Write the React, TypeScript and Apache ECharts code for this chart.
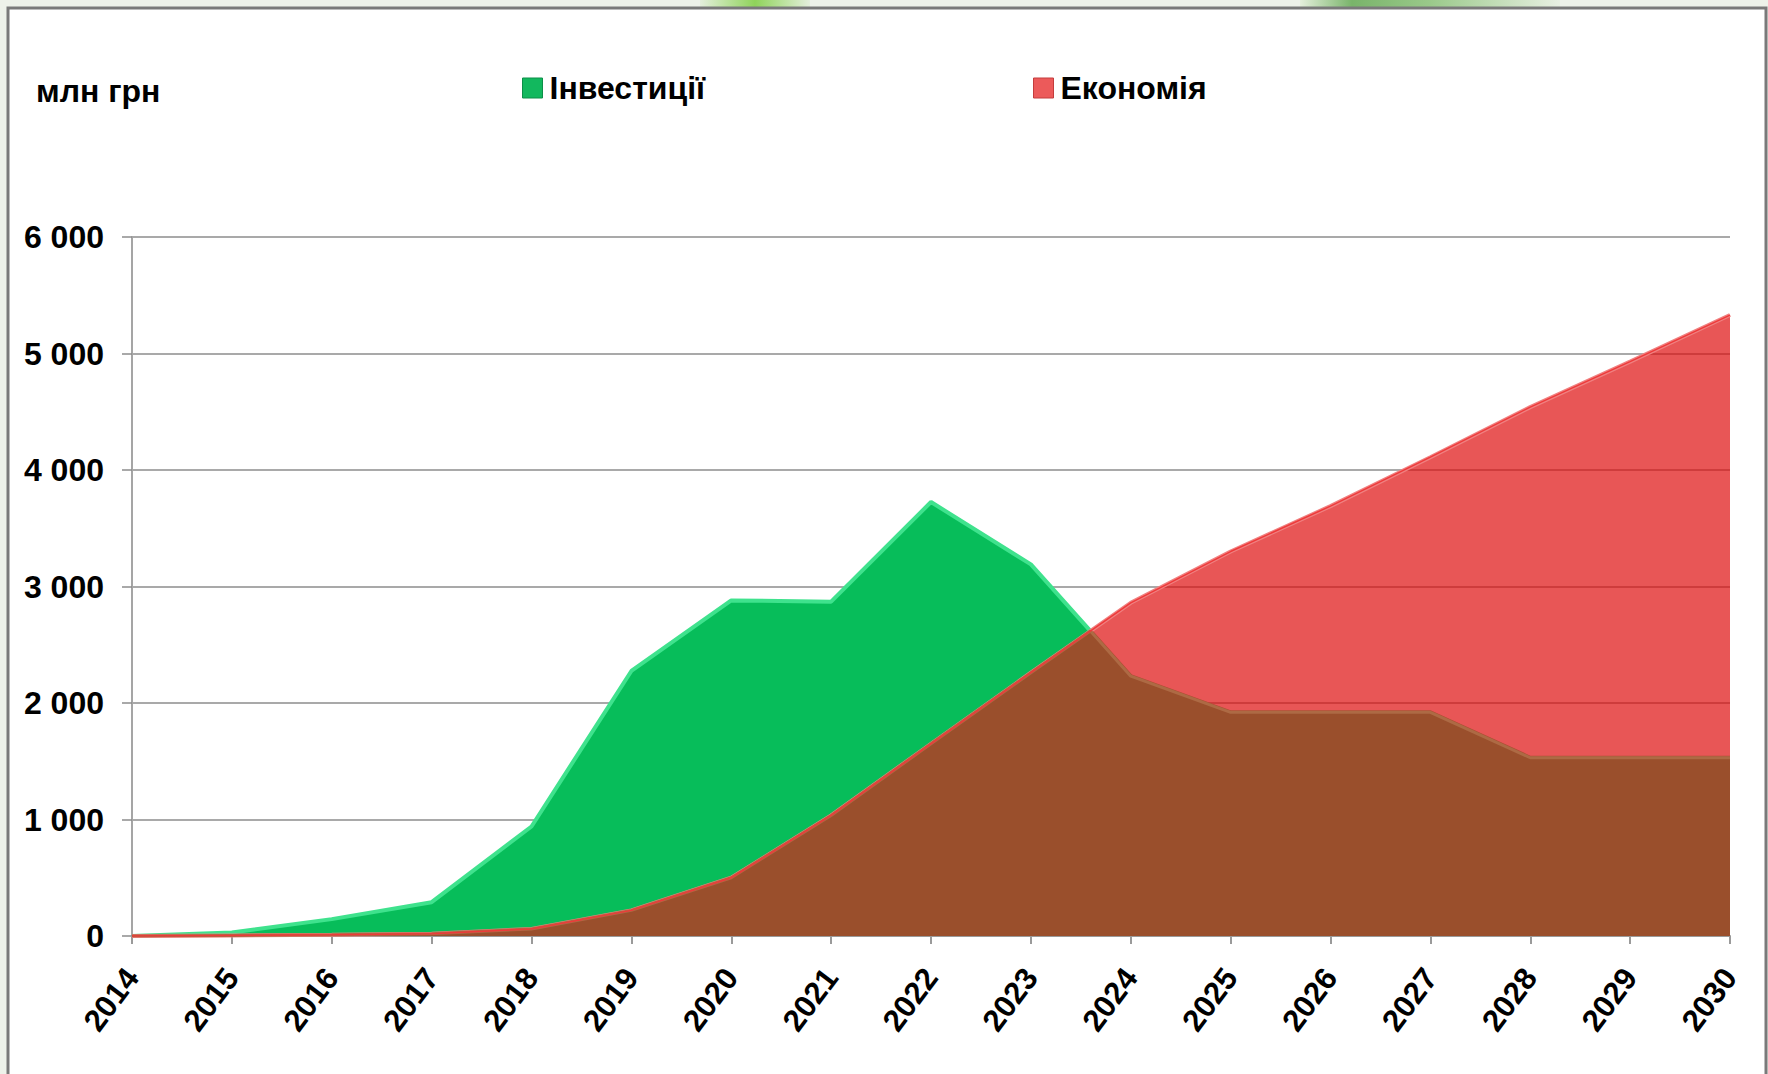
import React, { useEffect, useRef } from 'react';
import * as echarts from 'echarts';

const YEARS = [2014, 2015, 2016, 2017, 2018, 2019, 2020, 2021, 2022, 2023, 2024, 2025, 2026, 2027, 2028, 2029, 2030];
const INVESTMENTS = [0, 30, 145, 290, 940, 2275, 2880, 2870, 3725, 3190, 2230, 1920, 1920, 1920, 1530, 1530, 1530];
const SAVINGS = [0, 5, 10, 20, 60, 220, 500, 1035, 1650, 2260, 2860, 3300, 3690, 4110, 4540, 4930, 5330];
const SERIES_NAMES = ['Інвестиції', 'Економія'];
const UNIT_LABEL = 'млн грн';
const Y_MIN = 0;
const Y_MAX = 6000;
const Y_STEP = 1000;

const FONT = "'Liberation Sans', Arial, sans-serif";

function pairs(xs: number[], ys: number[]) {
  return xs.map((x, i) => [x, ys[i]]);
}

// lower envelope of two series, with crossing points inserted
function overlap(xs: number[], a: number[], b: number[]) {
  const pts: number[][] = [];
  for (let i = 0; i < xs.length; i++) {
    pts.push([xs[i], Math.min(a[i], b[i])]);
    if (i < xs.length - 1) {
      const d0 = a[i] - b[i];
      const d1 = a[i + 1] - b[i + 1];
      if (d0 * d1 < 0) {
        const t = d0 / (d0 - d1);
        pts.push([xs[i] + t * (xs[i + 1] - xs[i]), a[i] + t * (a[i + 1] - a[i])]);
      }
    }
  }
  return pts;
}

function fmtThousands(v: number) {
  return String(v).replace(/\B(?=(\d{3})+(?!\d))/g, ' ');
}

export default function App() {
  const ref = useRef<HTMLDivElement>(null);
  useEffect(() => {
    if (!ref.current) return;
    const chart = echarts.init(ref.current, null, { renderer: 'svg' });
    const legendText = { color: '#000', fontSize: 32, fontWeight: 'bold', fontFamily: FONT, lineHeight: 32, padding: [0, 0, 0, 2] };
    chart.setOption({
      animation: false,
      backgroundColor: '#eef2ea',
      graphic: [
        {
          type: 'rect', z: -10, silent: true,
          shape: { x: 700, y: 0, width: 110, height: 10 },
          style: {
            fill: new echarts.graphic.LinearGradient(0, 0, 1, 0, [
              { offset: 0, color: '#e4efdc' }, { offset: 0.5, color: '#8fd35a' }, { offset: 1, color: '#e4efdc' },
            ]),
          },
        },
        {
          type: 'rect', z: -10, silent: true,
          shape: { x: 1300, y: 0, width: 260, height: 10 },
          style: {
            fill: new echarts.graphic.LinearGradient(0, 0, 1, 0, [
              { offset: 0, color: '#e4efdc' }, { offset: 0.2, color: '#79b46a' }, { offset: 0.5, color: '#9ac98a' }, { offset: 1, color: '#e8f0e2' },
            ]),
          },
        },
        {
          type: 'rect', z: -5, silent: true,
          shape: { x: 8, y: 8, width: 1758, height: 1080 },
          style: { fill: '#ffffff', stroke: '#7a7a7a', lineWidth: 3 },
        },
      ],
      title: {
        text: UNIT_LABEL,
        left: 36,
        top: 75,
        padding: 0,
        textStyle: { color: '#000', fontSize: 32, fontWeight: 'bold', fontFamily: FONT },
      },
      legend: [
        {
          data: [{ name: SERIES_NAMES[0], icon: 'rect', itemStyle: { color: '#12b85e', borderColor: '#0c8f48', borderWidth: 1 } }],
          left: 522, top: 72, padding: 0, itemWidth: 20, itemHeight: 20, selectedMode: false,
          textStyle: legendText,
        },
        {
          data: [{ name: SERIES_NAMES[1], icon: 'rect', itemStyle: { color: '#ec5a5a', borderColor: '#c43c3c', borderWidth: 1 } }],
          left: 1033, top: 72, padding: 0, itemWidth: 20, itemHeight: 20, selectedMode: false,
          textStyle: legendText,
        },
      ],
      grid: { left: 132, right: 38, top: 237, bottom: 138, containLabel: false },
      xAxis: {
        type: 'value',
        min: YEARS[0],
        max: YEARS[YEARS.length - 1],
        interval: 1,
        axisLine: { show: true, lineStyle: { color: '#9a9a9a', width: 2 } },
        axisTick: { show: true, length: 8, lineStyle: { color: '#9a9a9a', width: 2 } },
        splitLine: { show: false },
        axisLabel: {
          rotate: 53,
          margin: 36,
          color: '#000',
          fontSize: 31,
          fontWeight: 'bold',
          fontFamily: FONT,
          formatter: (v: number) => String(v),
        },
      },
      yAxis: {
        type: 'value',
        min: Y_MIN,
        max: Y_MAX,
        interval: Y_STEP,
        axisLine: { show: true, lineStyle: { color: '#a5a5a5', width: 2 } },
        axisTick: { show: true, length: 10, lineStyle: { color: '#8c8c8c', width: 1.5 } },
        splitLine: { show: true, lineStyle: { color: '#8c8c8c', width: 1.5 } },
        axisLabel: {
          margin: 28,
          color: '#000',
          fontSize: 32,
          fontWeight: 'bold',
          fontFamily: FONT,
          formatter: (v: number) => fmtThousands(v),
        },
      },
      series: [
        {
          name: SERIES_NAMES[0],
          type: 'line',
          data: pairs(YEARS, INVESTMENTS),
          symbol: 'none',
          z: 2,
          lineStyle: { color: '#3fe28d', width: 4 },
          areaStyle: { color: '#07bd5a', opacity: 1 },
        },
        {
          name: SERIES_NAMES[1],
          type: 'line',
          data: pairs(YEARS, SAVINGS),
          symbol: 'none',
          z: 3,
          lineStyle: { color: '#f08080', width: 4 },
          areaStyle: { color: 'rgb(222,14,14)', opacity: 0.7 },
        },
        {
          name: 'overlap',
          type: 'line',
          data: overlap(YEARS, INVESTMENTS, SAVINGS),
          symbol: 'none',
          z: 4,
          lineStyle: { color: '#ad6a44', width: 3 },
          areaStyle: { color: '#9a4f2c', opacity: 1 },
        },
        {
          name: 'savings-edge',
          type: 'line',
          data: pairs(YEARS, SAVINGS),
          symbol: 'none',
          z: 5,
          lineStyle: { color: '#ee3a3a', width: 1.5 },
        },
      ],
    });
    return () => chart.dispose();
  }, []);
  return <div ref={ref} style={{ position: 'absolute', left: 0, top: 0, width: 1768, height: 1074 }} />;
}
